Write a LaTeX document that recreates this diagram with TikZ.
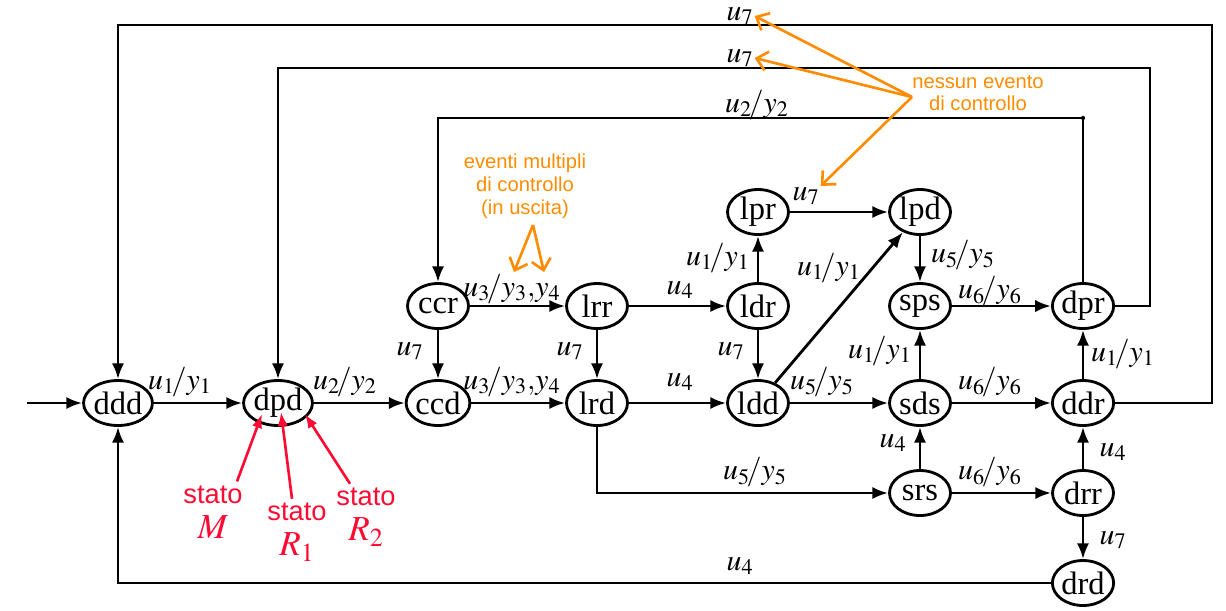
\documentclass[tikz,border=0pt]{standalone}
\usepackage{mathptmx}
\usepackage[no-math]{fontspec}
\setmainfont{Liberation Serif}
\newfontfamily\notafont{Liberation Sans}
\usepackage{tikz}
\usetikzlibrary{shapes.geometric,arrows.meta}
\definecolor{notaorange}{RGB}{255,140,0}
\definecolor{notared}{RGB}{255,10,50}

\begin{document}
\begin{tikzpicture}[x=0.02cm,y=-0.02cm,
            st/.style={ellipse,draw,line width=1.6pt,minimum width=1.22cm,minimum height=0.9cm,inner sep=0pt,font=\fontsize{18.5}{20}\selectfont},
            ev/.style={inner sep=0.5pt,font=\fontsize{17}{20}\selectfont},
            tr/.style={line width=1.6pt,-{Latex[length=9pt,width=7pt]}},
            nota/.style={text=notaorange,align=center,font=\notafont\fontsize{11.5}{13}\selectfont},
            notafr/.style={draw=notaorange,line width=1.5pt,-{Straight Barb[length=6pt,width=11pt]}},
            rosso/.style={text=notared,align=center,font=\notafont\fontsize{15.5}{20}\selectfont},
            rossofr/.style={draw=notared,line width=1.5pt,-{Latex[length=8pt,width=6pt]}}]
            \useasboundingbox (0,0) rectangle (1226,610);

            \node[st] (ddd) at (118,403) {ddd};
            \node[st] (dpd) at (278,403) {dpd};
            \node[st] (ccd) at (438,403) {ccd};
            \node[st] (ccr) at (438,306) {ccr};
            \node[st] (lrr) at (597,306) {lrr};
            \node[st] (lrd) at (597,403) {lrd};
            \node[st] (ldr) at (758,306) {ldr};
            \node[st] (ldd) at (758,403) {ldd};
            \node[st] (lpr) at (758,212) {lpr};
            \node[st] (lpd) at (920,212) {lpd};
            \node[st] (sps) at (920,306) {sps};
            \node[st] (sds) at (920,403) {sds};
            \node[st] (srs) at (920,493) {srs};
            \node[st] (dpr) at (1083,306) {dpr};
            \node[st] (ddr) at (1083,403) {ddr};
            \node[st] (drr) at (1083,493) {drr};
            \node[st] (drd) at (1083,583) {drd};

            \coordinate (in) at (27,403);
            \coordinate (giro1) at (1212,25);
            \coordinate (giro2) at (1150,68);
            \coordinate (giro3) at (1083,118);

            \draw[tr] (in) -- (ddd);
            \draw[tr] (ddd) -- (dpd);
            \draw[tr] (dpd) -- (ccd);
            \draw[tr] (ccd) -- (lrd);
            \draw[tr] (ccr) -- (lrr);
            \draw[tr] (ccr) -- (ccd);
            \draw[tr] (lrr) -- (lrd);
            \draw[tr] (lrr) -- (ldr);
            \draw[tr] (lrd) -- (ldd);
            \draw[tr] (ldr) -- (ldd);
            \draw[tr] (ldr) -- (lpr);
            \draw[tr] (lpr) -- (lpd);
            \draw[tr] (ldd) -- (lpd);
            \draw[tr] (ldd) -- (sds);
            \draw[tr] (lpd) -- (sps);
            \draw[tr] (sds) -- (sps);
            \draw[tr] (sps) -- (dpr);
            \draw[tr] (sds) -- (ddr);
            \draw[tr] (ddr) -- (dpr);
            \draw[tr] (srs) -- (sds);
            \draw[tr] (srs) -- (drr);
            \draw[tr] (drr) -- (ddr);
            \draw[tr] (drr) -- (drd);
            \draw[tr] (lrd) |- (srs);
            \draw[tr] (drd) -| (ddd);
            \draw[tr] (ddr.east) -| (giro1) -| (ddd);
            \draw[tr] (dpr.east) -| (giro2) -| (dpd);
            \draw[tr] (dpr) -- (giro3) -| (ccr);
            \fill (giro3) circle (1.2pt);

            \node[ev] (e-ddd) at (180,382) {$u_1\!/y_1$};
            \node[ev] (e-dpd) at (345,382) {$u_2\!/y_2$};
            \node[ev] (e-ccd) at (512,382) {$u_3\!/y_3{,}y_4$};
            \node[ev] (e-ccr) at (512,289) {$u_3\!/y_3{,}y_4$};
            \node[ev] (e-ccr2) at (410,351) {$u_7$};
            \node[ev] (e-lrr2) at (570,351) {$u_7$};
            \node[ev] (e-ldr2) at (731,351) {$u_7$};
            \node[ev] (e-lrr) at (680,290) {$u_4$};
            \node[ev] (e-lrd) at (680,382) {$u_4$};
            \node[ev] (e-ldr) at (718,258) {$u_1\!/y_1$};
            \node[ev] (e-lpr) at (806,196) {$u_7$};
            \node[ev] (e-ldd) at (829,268) {$u_1\!/y_1$};
            \node[ev] (e-ldd2) at (822,382) {$u_5\!/y_5$};
            \node[ev] (e-lpd) at (963,255) {$u_5\!/y_5$};
            \node[ev] (e-sps) at (990,291) {$u_6\!/y_6$};
            \node[ev] (e-sds) at (880,351) {$u_1\!/y_1$};
            \node[ev] (e-sds2) at (990,382) {$u_6\!/y_6$};
            \node[ev] (e-ddr) at (1123,354) {$u_1\!/y_1$};
            \node[ev] (e-srs) at (893,443) {$u_4$};
            \node[ev] (e-lrd2) at (755,472) {$u_5\!/y_5$};
            \node[ev] (e-srs2) at (990,472) {$u_6\!/y_6$};
            \node[ev] (e-drr) at (1113,452) {$u_4$};
            \node[ev] (e-drr2) at (1113,540) {$u_7$};
            \node[ev] (e-drd) at (740,566) {$u_4$};
            \node[ev] (e-giro1) at (740,16) {$u_7$};
            \node[ev] (e-giro2) at (740,58) {$u_7$};
            \node[ev] (e-giro3) at (757,105) {$u_2\!/y_2$};

            \node[nota] (nessun) at (978,93) {nessun evento\\di controllo};
            \coordinate (hub1) at (912,97);
            \draw[notafr] (hub1) -- (e-giro1.east);
            \draw[notafr] (hub1) -- (e-giro2.east);
            \draw[notafr] (hub1) -- (e-lpr.north east);
            \node[nota] (multipli) at (525,186) {eventi multipli\\di controllo\\(in uscita)};
            \coordinate (hub2) at (533,225);
            \coordinate (punta1) at (514,272);
            \coordinate (punta2) at (544,272);
            \draw[notafr] (hub2) -- (punta1);
            \draw[notafr] (hub2) -- (punta2);

            \node[rosso] (statoM) at (213,512) {stato\\{\fontsize{20}{20}\selectfont$M$}};
            \node[rosso] (statoR1) at (297,532) {stato\\{\fontsize{20}{20}\selectfont$R_1$}};
            \node[rosso] (statoR2) at (366,517) {stato\\{\fontsize{20}{20}\selectfont$R_2$}};
            \draw[rossofr] (statoM.north) ++(24,2) coordinate (rM) -- (262,414);
            \draw[rossofr] (statoR1.north) ++(-5,2) coordinate (rR1) -- (281,412);
            \draw[rossofr] (statoR2.north) ++(-16,2) coordinate (rR2) -- (305,414);
\end{tikzpicture}
\end{document}
